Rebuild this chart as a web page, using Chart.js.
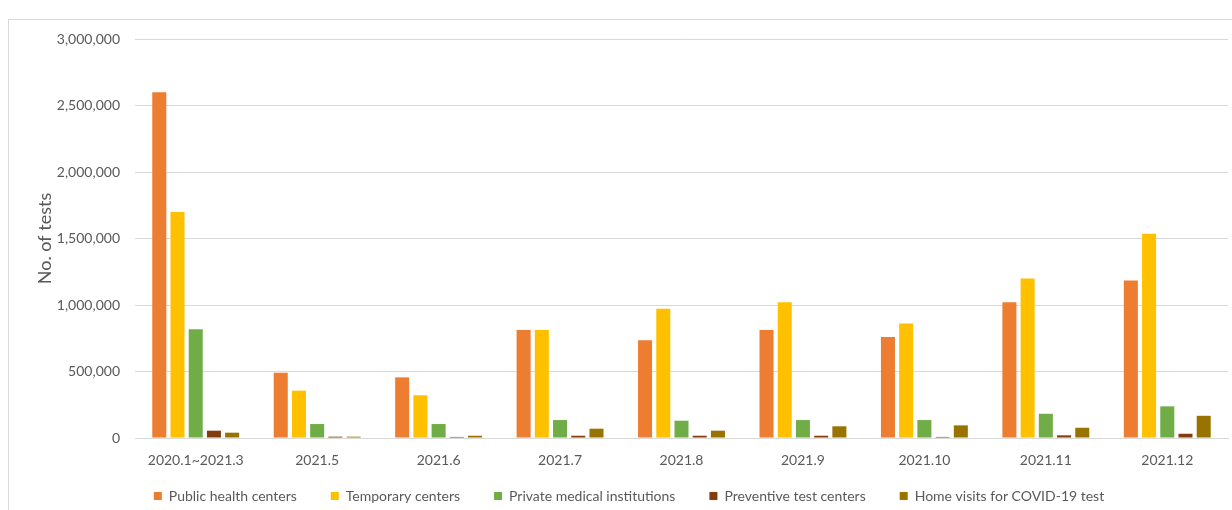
<!DOCTYPE html>
<html>
<head>
<meta charset="utf-8">
<script src="https://cdn.jsdelivr.net/npm/chart.js@4/dist/chart.umd.min.js"></script>
<style>
    html, body { margin: 0; padding: 0; background: #fff; overflow: hidden; }
    #frame {
        position: absolute;
        left: 8px;
        top: 19px;
        width: 1240px;
        height: 520px;
        border: 1px solid #d9d9d9;
    }
    #tests-chart { position: absolute; left: 0; top: 0; }
</style>
</head>
<body>
<div id="frame"></div>
<canvas id="tests-chart" width="1232" height="528"></canvas>
<script>
// monthly number of tests per testing site
const periods = ['2020.1~2021.3', '2021.5', '2021.6', '2021.7', '2021.8', '2021.9', '2021.10', '2021.11', '2021.12'];
const publicHealthCenters = [2600000, 491000, 456000, 812000, 735000, 812000, 760000, 1020000, 1185000];
const temporaryCenters = [1700000, 356000, 321000, 812000, 972000, 1020000, 861000, 1200000, 1535000];
const privateInstitutions = [817000, 105000, 105000, 135000, 130000, 135000, 135000, 182000, 238000];
const preventiveCenters = [55000, 10000, 8000, 17000, 17000, 17000, 8000, 20000, 32000];
const homeVisits = [40000, 10000, 17000, 70000, 55000, 88000, 95000, 77000, 167000];

const seriesNames = ['Public health centers', 'Temporary centers', 'Private medical institutions', 'Preventive test centers', 'Home visits for COVID-19 test'];
const seriesColors = ['#ED7D31', '#FFC000', '#70AD47', '#843C0C', '#997300'];
const yTicks = { min: 0, max: 3000000, step: 500000 };

// legend padding also pads its top edge, so pull the legend up a bit
const legendLift = {
    id: 'legendLift',
    afterLayout(chart) {
        const legend = chart.legend;
        if (!legend) return;
        legend.top -= 15;
        legend.bottom -= 15;
    }
};

document.addEventListener('DOMContentLoaded', () => {
    const ctx = document.getElementById('tests-chart').getContext('2d');

    Chart.defaults.font.family = 'Lato';
    Chart.defaults.font.size = 14;
    Chart.defaults.color = '#595959';

    const values = [publicHealthCenters, temporaryCenters, privateInstitutions, preventiveCenters, homeVisits];
    const datasets = values.map((data, i) => ({
        label: seriesNames[i],
        data: data,
        backgroundColor: seriesColors[i],
        borderWidth: 0,
        categoryPercentage: 0.75,
        barPercentage: 0.77
    }));

    new Chart(ctx, {
        type: 'bar',
        data: { labels: periods, datasets: datasets },
        plugins: [legendLift],
        options: {
            responsive: false,
            animation: false,
            layout: {
                padding: { left: 30, right: 4, top: 39, bottom: 0 }
            },
            plugins: {
                tooltip: { enabled: false },
                legend: {
                    position: 'bottom',
                    labels: {
                        boxWidth: 8,
                        boxHeight: 8,
                        padding: 34,
                        color: '#595959',
                        font: { size: 14 }
                    }
                }
            },
            scales: {
                x: {
                    grid: { display: false, drawTicks: false },
                    border: { color: '#d9d9d9' },
                    ticks: { padding: 14, maxRotation: 0, autoSkip: false },
                    afterFit: (scale) => { scale.height = 32; }
                },
                y: {
                    min: yTicks.min,
                    max: yTicks.max,
                    grid: { color: '#d9d9d9', drawTicks: false },
                    border: { display: false },
                    ticks: {
                        stepSize: yTicks.step,
                        padding: 15,
                        callback: (value) => value.toLocaleString('en-US')
                    },
                    title: {
                        display: true,
                        text: 'No. of tests',
                        color: '#595959',
                        padding: { top: 4, bottom: 0 },
                        font: { size: 18 }
                    },
                    afterFit: (scale) => { scale.width = 105; }
                }
            }
        }
    });
});
</script>
</body>
</html>
